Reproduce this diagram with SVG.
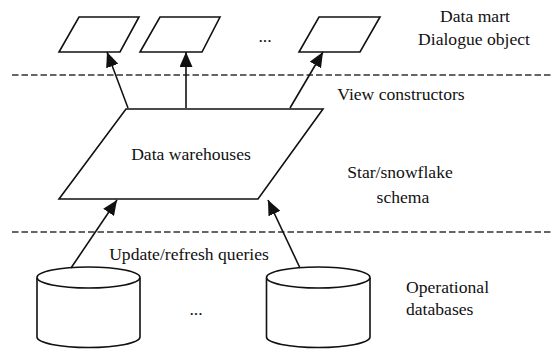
<svg xmlns="http://www.w3.org/2000/svg" width="551" height="350" viewBox="0 0 551 350">
  <style>
    .shape { fill: #fff; stroke: #111; stroke-width: 1.6; stroke-linejoin: miter; }
    .link { fill: none; stroke: #111; stroke-width: 1.6; }
    .sep { fill: none; stroke: #333; stroke-width: 1.5; stroke-dasharray: 6.5 3; }
    text { font-family: "Liberation Serif", "Times New Roman", serif; font-size: 17.6px; fill: #111; }
    .c { text-anchor: middle; }
  </style>
  <defs>
    <marker id="arrow" viewBox="0 0 15 13" refX="15" refY="6.5" markerWidth="15" markerHeight="13" markerUnits="userSpaceOnUse" orient="auto">
      <path d="M0,0 L15,6.5 L0,13 z" fill="#111"/>
    </marker>
  </defs>

  <!-- layer separators -->
  <g id="separators">
    <line class="sep" x1="12" y1="75" x2="551" y2="75"/>
    <line class="sep" x1="12" y1="232" x2="551" y2="232"/>
  </g>

  <!-- data marts -->
  <g id="mart1"><polygon class="shape" points="79,17 139,17 120,52 59,52"/></g>
  <g id="mart2"><polygon class="shape" points="160,17 220,17 202,52 140,52"/></g>
  <text class="c" x="265" y="42">...</text>
  <g id="mart3"><polygon class="shape" points="319,17 380,17 360,52 299,52"/></g>

  <!-- warehouse -->
  <g id="warehouse">
    <polygon class="shape" points="126,109 323,109 258,199 59,199"/>
    <text class="c" x="191" y="160">Data warehouses</text>
  </g>

  <!-- operational databases -->
  <g id="db1">
    <path class="shape" d="M37,278 L37,337 A51.5,10.5 0 0 0 140,337 L140,278"/>
    <ellipse class="shape" cx="88.5" cy="277.5" rx="51.5" ry="10.5"/>
  </g>
  <text class="c" x="196" y="315">...</text>
  <g id="db2">
    <path class="shape" d="M266.5,278 L266.5,337 A51.75,10.5 0 0 0 370,337 L370,278"/>
    <ellipse class="shape" cx="318.25" cy="277.5" rx="51.75" ry="10.5"/>
  </g>

  <!-- connectors -->
  <g id="connectors">
    <line class="link" x1="128" y1="108" x2="107" y2="52" marker-end="url(#arrow)"/>
    <line class="link" x1="186" y1="108" x2="186" y2="52" marker-end="url(#arrow)"/>
    <line class="link" x1="290" y1="108" x2="323" y2="52" marker-end="url(#arrow)"/>
    <line class="link" x1="71" y1="268" x2="117" y2="200" marker-end="url(#arrow)"/>
    <line class="link" x1="300" y1="268" x2="268" y2="200" marker-end="url(#arrow)"/>
  </g>

  <!-- labels -->
  <g id="labels">
    <text class="c" x="475" y="22">Data mart</text>
    <text class="c" x="474" y="45">Dialogue object</text>
    <text class="c" x="401" y="100">View constructors</text>
    <text class="c" x="400" y="178">Star/snowflake</text>
    <text class="c" x="403" y="203">schema</text>
    <text class="c" x="189" y="260">Update/refresh queries</text>
    <text x="406" y="293">Operational</text>
    <text x="406" y="315">databases</text>
  </g>
</svg>
